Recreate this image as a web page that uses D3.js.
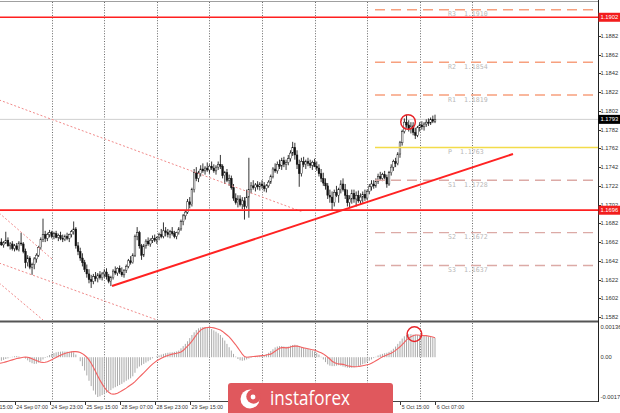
<!DOCTYPE html>
<html><head><meta charset="utf-8">
<script src="https://cdn.jsdelivr.net/npm/d3@7/dist/d3.min.js"></script>
<style>html,body{margin:0;padding:0;background:#fff;overflow:hidden}svg{display:block}</style>
</head><body>
<svg id="chart" width="620" height="413"></svg>
<script>
// ---------------- DATA ----------------
const dayNames = ["24 Sep","25 Sep","28 Sep","29 Sep","30 Sep","1 Oct","2 Oct","5 Oct","6 Oct"];
const daySeparatorBars = [24,48,72,96,120,144,168,192,216];
// labels that are visible (the others are covered by the logo in the reference)
const timeLabelBars = [-9,7,23,39,55,71,87,183,199];
const timeLabels = ["23 Sep 15:00","24 Sep 07:00","24 Sep 23:00","25 Sep 15:00","28 Sep 07:00","28 Sep 23:00","29 Sep 15:00","5 Oct 15:00","6 Oct 07:00"];

const open = [
1.1660,1.1662,1.1659,1.1661,1.1664,1.1658,1.1660,1.1655,1.1658,1.1654,
1.1661,1.1660,1.1652,1.1640,1.1645,1.1635,1.1638,1.1644,1.1648,1.1656,
1.1665,1.1670,1.1666,1.1670,1.1672,1.1668,1.1671,1.1667,1.1669,1.1666,
1.1665,1.1668,1.1666,1.1670,1.1673,1.1676,1.1658,1.1652,1.1645,1.1640,
1.1633,1.1628,1.1622,1.1620,1.1625,1.1623,1.1627,1.1624,1.1628,1.1630,
1.1625,1.1620,1.1624,1.1631,1.1629,1.1634,1.1630,1.1627,1.1632,1.1636,
1.1642,1.1640,1.1648,1.1668,1.1672,1.1658,1.1648,1.1658,1.1663,1.1660,
1.1664,1.1666,1.1664,1.1667,1.1670,1.1668,1.1674,1.1672,1.1670,1.1673,
1.1671,1.1668,1.1672,1.1676,1.1684,1.1690,1.1694,1.1705,1.1702,1.1718,
1.1736,1.1730,1.1735,1.1740,1.1738,1.1741,1.1739,1.1743,1.1741,1.1738,
1.1742,1.1745,1.1743,1.1733,1.1736,1.1728,1.1730,1.1720,1.1709,1.1704,
1.1708,1.1702,1.1706,1.1700,1.1710,1.1718,1.1722,1.1720,1.1723,1.1721,
1.1724,1.1722,1.1719,1.1722,1.1726,1.1732,1.1740,1.1738,1.1745,1.1743,
1.1749,1.1745,1.1747,1.1751,1.1757,1.1763,1.1755,1.1745,1.1735,1.1748,
1.1745,1.1748,1.1746,1.1744,1.1747,1.1743,1.1741,1.1735,1.1730,1.1725,
1.1722,1.1712,1.1710,1.1704,1.1715,1.1712,1.1718,1.1724,1.1718,1.1712,
1.1704,1.1708,1.1714,1.1708,1.1712,1.1706,1.1710,1.1713,1.1709,1.1716,
1.1721,1.1724,1.1722,1.1727,1.1732,1.1730,1.1734,1.1731,1.1724,1.1736,
1.1742,1.1748,1.1746,1.1756,1.1768,1.1780,1.1790,1.1787,1.1783,1.1786,
1.1779,1.1776,1.1784,1.1787,1.1785,1.1788,1.1790,1.1789,1.1793,1.1791];
const high = [
1.1664,1.1666,1.1663,1.1673,1.1667,1.1662,1.1663,1.1660,1.1661,1.1663,
1.1672,1.1662,1.1655,1.1648,1.1647,1.1640,1.1646,1.1650,1.1658,1.1667,
1.1687,1.1674,1.1672,1.1675,1.1674,1.1673,1.1674,1.1671,1.1673,1.1670,
1.1670,1.1672,1.1671,1.1675,1.1684,1.1678,1.1662,1.1656,1.1650,1.1643,
1.1638,1.1633,1.1627,1.1628,1.1630,1.1629,1.1631,1.1630,1.1633,1.1634,
1.1628,1.1626,1.1633,1.1636,1.1635,1.1637,1.1635,1.1633,1.1638,1.1644,
1.1647,1.1650,1.1670,1.1678,1.1674,1.1660,1.1660,1.1665,1.1667,1.1666,
1.1669,1.1670,1.1668,1.1672,1.1676,1.1683,1.1678,1.1676,1.1675,1.1678,
1.1674,1.1673,1.1678,1.1686,1.1692,1.1696,1.1708,1.1710,1.1720,1.1740,
1.1742,1.1738,1.1744,1.1746,1.1743,1.1747,1.1745,1.1748,1.1745,1.1744,
1.1748,1.1755,1.1745,1.1738,1.1740,1.1734,1.1733,1.1724,1.1714,1.1712,
1.1712,1.1710,1.1710,1.1718,1.1752,1.1726,1.1728,1.1725,1.1727,1.1726,
1.1728,1.1726,1.1724,1.1728,1.1734,1.1742,1.1746,1.1748,1.1750,1.1752,
1.1753,1.1750,1.1755,1.1760,1.1769,1.1768,1.1760,1.1750,1.1752,1.1753,
1.1750,1.1752,1.1750,1.1749,1.1751,1.1748,1.1745,1.1740,1.1736,1.1730,
1.1725,1.1718,1.1716,1.1718,1.1722,1.1720,1.1728,1.1730,1.1724,1.1718,
1.1712,1.1718,1.1718,1.1716,1.1717,1.1714,1.1716,1.1718,1.1718,1.1724,
1.1728,1.1728,1.1730,1.1735,1.1737,1.1736,1.1738,1.1734,1.1738,1.1745,
1.1750,1.1752,1.1758,1.1770,1.1782,1.1794,1.1798,1.1792,1.1790,1.1790,
1.1784,1.1786,1.1790,1.1791,1.1790,1.1793,1.1794,1.1795,1.1797,1.1798];
const low = [
1.1657,1.1658,1.1656,1.1660,1.1657,1.1654,1.1653,1.1652,1.1653,1.1652,
1.1658,1.1650,1.1634,1.1636,1.1633,1.1627,1.1633,1.1640,1.1646,1.1654,
1.1662,1.1662,1.1663,1.1667,1.1666,1.1665,1.1666,1.1663,1.1664,1.1662,
1.1663,1.1664,1.1662,1.1667,1.1670,1.1655,1.1648,1.1642,1.1636,1.1630,
1.1624,1.1618,1.1613,1.1617,1.1620,1.1619,1.1622,1.1621,1.1624,1.1622,
1.1618,1.1615,1.1622,1.1627,1.1626,1.1628,1.1625,1.1624,1.1629,1.1634,
1.1638,1.1639,1.1646,1.1664,1.1655,1.1643,1.1646,1.1655,1.1658,1.1657,
1.1661,1.1662,1.1660,1.1664,1.1666,1.1666,1.1668,1.1667,1.1666,1.1669,
1.1666,1.1665,1.1670,1.1674,1.1680,1.1686,1.1692,1.1698,1.1700,1.1715,
1.1727,1.1726,1.1732,1.1736,1.1734,1.1737,1.1735,1.1739,1.1736,1.1734,
1.1739,1.1740,1.1730,1.1724,1.1726,1.1722,1.1718,1.1706,1.1702,1.1699,
1.1700,1.1697,1.1686,1.1698,1.1688,1.1714,1.1718,1.1716,1.1718,1.1717,
1.1719,1.1716,1.1715,1.1720,1.1724,1.1730,1.1736,1.1735,1.1740,1.1739,
1.1742,1.1739,1.1744,1.1748,1.1754,1.1750,1.1740,1.1721,1.1732,1.1742,
1.1740,1.1743,1.1741,1.1739,1.1742,1.1738,1.1732,1.1726,1.1722,1.1718,
1.1708,1.1704,1.1696,1.1700,1.1710,1.1704,1.1714,1.1716,1.1708,1.1700,
1.1698,1.1703,1.1704,1.1700,1.1704,1.1702,1.1704,1.1706,1.1707,1.1713,
1.1717,1.1719,1.1720,1.1724,1.1728,1.1727,1.1729,1.1720,1.1722,1.1733,
1.1738,1.1742,1.1744,1.1752,1.1765,1.1778,1.1784,1.1780,1.1778,1.1776,
1.1772,1.1774,1.1780,1.1782,1.1781,1.1785,1.1786,1.1787,1.1789,1.1789];
const close = [
1.1662,1.1659,1.1661,1.1664,1.1658,1.1660,1.1655,1.1658,1.1654,1.1661,
1.1660,1.1652,1.1640,1.1645,1.1635,1.1638,1.1644,1.1648,1.1656,1.1665,
1.1670,1.1666,1.1670,1.1672,1.1668,1.1671,1.1667,1.1669,1.1666,1.1665,
1.1668,1.1666,1.1670,1.1673,1.1676,1.1658,1.1652,1.1645,1.1640,1.1633,
1.1628,1.1622,1.1620,1.1625,1.1623,1.1627,1.1624,1.1628,1.1630,1.1625,
1.1620,1.1624,1.1631,1.1629,1.1634,1.1630,1.1627,1.1632,1.1636,1.1642,
1.1640,1.1648,1.1668,1.1672,1.1658,1.1648,1.1658,1.1663,1.1660,1.1664,
1.1666,1.1664,1.1667,1.1670,1.1668,1.1674,1.1672,1.1670,1.1673,1.1671,
1.1668,1.1672,1.1676,1.1684,1.1690,1.1694,1.1705,1.1702,1.1718,1.1736,
1.1730,1.1735,1.1740,1.1738,1.1741,1.1739,1.1743,1.1741,1.1738,1.1742,
1.1745,1.1743,1.1733,1.1736,1.1728,1.1730,1.1720,1.1709,1.1704,1.1708,
1.1702,1.1706,1.1700,1.1710,1.1718,1.1722,1.1720,1.1723,1.1721,1.1724,
1.1722,1.1719,1.1722,1.1726,1.1732,1.1740,1.1738,1.1745,1.1743,1.1749,
1.1745,1.1747,1.1751,1.1757,1.1763,1.1755,1.1745,1.1735,1.1748,1.1745,
1.1748,1.1746,1.1744,1.1747,1.1743,1.1741,1.1735,1.1730,1.1725,1.1722,
1.1712,1.1710,1.1704,1.1715,1.1712,1.1718,1.1724,1.1718,1.1712,1.1704,
1.1708,1.1714,1.1708,1.1712,1.1706,1.1710,1.1713,1.1709,1.1716,1.1721,
1.1724,1.1722,1.1727,1.1732,1.1730,1.1734,1.1731,1.1724,1.1736,1.1742,
1.1748,1.1746,1.1756,1.1768,1.1780,1.1790,1.1787,1.1783,1.1786,1.1779,
1.1776,1.1784,1.1787,1.1785,1.1788,1.1790,1.1789,1.1793,1.1791,1.1793];

const macdMain = [
-0.00020,-0.00016,-0.00012,-0.00008,-0.00005,-0.00001,0.00002,0.00004,0.00005,0.00003,
0.00001,0.00000,-0.00006,-0.00014,-0.00022,-0.00027,-0.00030,-0.00029,-0.00024,-0.00017,
-0.00010,-0.00003,0.00004,0.00010,0.00015,0.00019,0.00022,0.00024,0.00025,0.00026,
0.00025,0.00025,0.00024,0.00025,0.00022,0.00012,0.00000,-0.00018,-0.00040,-0.00060,
-0.00082,-0.00106,-0.00130,-0.00150,-0.00168,-0.00179,-0.00176,-0.00170,-0.00165,-0.00160,
-0.00154,-0.00148,-0.00140,-0.00135,-0.00130,-0.00125,-0.00120,-0.00113,-0.00106,-0.00100,
-0.00095,-0.00086,-0.00070,-0.00050,-0.00042,-0.00036,-0.00030,-0.00024,-0.00018,-0.00012,
-0.00005,0.00000,0.00004,0.00008,0.00012,0.00015,0.00018,0.00020,0.00021,0.00022,
0.00024,0.00026,0.00030,0.00040,0.00050,0.00060,0.00072,0.00086,0.00100,0.00112,
0.00122,0.00130,0.00134,0.00136,0.00136,0.00134,0.00131,0.00127,0.00121,0.00115,
0.00108,0.00100,0.00088,0.00075,0.00060,0.00045,0.00030,0.00015,0.00003,-0.00008,
-0.00014,-0.00016,-0.00014,-0.00010,-0.00006,-0.00003,0.00000,0.00002,0.00004,0.00006,
0.00008,0.00010,0.00014,0.00020,0.00028,0.00036,0.00044,0.00048,0.00050,0.00050,
0.00048,0.00047,0.00048,0.00052,0.00055,0.00056,0.00054,0.00050,0.00046,0.00042,
0.00040,0.00037,0.00034,0.00030,0.00026,0.00020,0.00012,0.00002,-0.00010,-0.00022,
-0.00032,-0.00038,-0.00040,-0.00040,-0.00038,-0.00036,-0.00038,-0.00042,-0.00045,-0.00047,
-0.00048,-0.00048,-0.00046,-0.00043,-0.00040,-0.00036,-0.00032,-0.00028,-0.00022,-0.00016,
-0.00010,-0.00004,0.00002,0.00008,0.00012,0.00015,0.00018,0.00020,0.00024,0.00030,
0.00038,0.00048,0.00060,0.00072,0.00084,0.00094,0.00100,0.00104,0.00104,0.00102,
0.00101,0.00100,0.00099,0.00098,0.00097,0.00095,0.00093,0.00091,0.00089,0.00087];
const macdSignal = [
-0.00028,-0.00026,-0.00024,-0.00021,-0.00018,-0.00015,-0.00012,-0.00009,-0.00006,-0.00004,
-0.00002,0.00000,0.00001,0.00000,-0.00003,-0.00007,-0.00011,-0.00015,-0.00019,-0.00022,
-0.00024,-0.00023,-0.00020,-0.00016,-0.00011,-0.00006,-0.00001,0.00004,0.00009,0.00013,
0.00017,0.00020,0.00022,0.00024,0.00025,0.00025,0.00024,0.00021,0.00016,0.00009,
0.00000,-0.00012,-0.00027,-0.00045,-0.00064,-0.00084,-0.00103,-0.00120,-0.00135,-0.00148,
-0.00158,-0.00164,-0.00166,-0.00165,-0.00162,-0.00157,-0.00151,-0.00145,-0.00139,-0.00132,
-0.00125,-0.00118,-0.00110,-0.00100,-0.00090,-0.00080,-0.00070,-0.00060,-0.00050,-0.00040,
-0.00031,-0.00023,-0.00016,-0.00010,-0.00005,0.00000,0.00004,0.00008,0.00011,0.00014,
0.00016,0.00018,0.00020,0.00024,0.00030,0.00040,0.00050,0.00060,0.00072,0.00086,
0.00100,0.00112,0.00122,0.00128,0.00132,0.00134,0.00135,0.00134,0.00132,0.00129,
0.00126,0.00122,0.00116,0.00108,0.00100,0.00092,0.00080,0.00068,0.00056,0.00042,
0.00028,0.00014,0.00003,0.00000,0.00001,0.00002,0.00003,0.00004,0.00005,0.00006,
0.00007,0.00008,0.00010,0.00012,0.00014,0.00020,0.00027,0.00034,0.00040,0.00043,
0.00043,0.00042,0.00043,0.00046,0.00049,0.00050,0.00050,0.00048,0.00045,0.00042,
0.00040,0.00038,0.00036,0.00034,0.00032,0.00028,0.00024,0.00020,0.00015,0.00008,
0.00000,-0.00008,-0.00018,-0.00024,-0.00028,-0.00030,-0.00031,-0.00032,-0.00035,-0.00038,
-0.00040,-0.00042,-0.00043,-0.00043,-0.00042,-0.00040,-0.00038,-0.00036,-0.00034,-0.00032,
-0.00027,-0.00022,-0.00016,-0.00010,-0.00004,0.00002,0.00006,0.00010,0.00014,0.00018,
0.00024,0.00031,0.00039,0.00047,0.00057,0.00067,0.00078,0.00086,0.00092,0.00097,
0.00100,0.00100,0.00099,0.00098,0.00097,0.00097,0.00095,0.00093,0.00091,0.00088];

const priceTicks = [1.1882,1.1862,1.1842,1.1822,1.1802,1.1782,1.1762,1.1742,1.1722,1.1702,1.1682,1.1662,1.1642,1.1622,1.1602,1.1582];
const markedLevels = [1.1902, 1.1696];
const bidPrice = 1.1793;
const pivotNames = ["R3","R2","R1","P","S1","S2","S3"];
const pivotValues = [1.1910,1.1854,1.1819,1.1763,1.1728,1.1672,1.1637];
const pivotStartBar = 171.6;
const macdTickValues = [0.00136, 0, -0.00179];
const macdTickLabels = ["0.00136","0.00","-0.00179"];
const trendLine = [[51.5,1.16151],[234.6,1.17560]];
const channelLines = [
  [[0,1.18137],[138.6,1.16941]],
  [[0,1.16396],[72.1,1.15788]],
  [[0,1.16930],[24.6,1.16429]],
  [[0,1.16183],[20.0,1.15788]]
];
const priceCircles = [[186.7,1.17902]];
const macdCircles = [[189.6,0.00104]];

// ---------------- CHART ----------------
const svg = d3.select("#chart");
const FONT = "'Liberation Sans', Arial, sans-serif";
const n = close.length;
const plotRight = 598.5;
const x = d3.scaleLinear().domain([0, 199]).range([-0.8, -0.8 + 199 * 2.19]);
const y = d3.scaleLinear().domain([1.15788, 1.19183]).range([320, 2]);
const ym = d3.scaleLinear().domain([-0.00179, 0.00136]).range([397, 327]);

const defs = svg.append("defs");
defs.append("clipPath").attr("id","clipMain").append("rect").attr("x",0).attr("y",2).attr("width",plotRight).attr("height",319);
defs.append("clipPath").attr("id","clipMacd").append("rect").attr("x",0).attr("y",323).attr("width",plotRight).attr("height",78);

const main = svg.append("g").attr("clip-path","url(#clipMain)");
const macdG = svg.append("g").attr("clip-path","url(#clipMacd)");

// grid (day separators)
[[main,2,320],[macdG,323,401]].forEach(([g,y1,y2])=>{
  g.selectAll(null).data(daySeparatorBars).join("line")
    .attr("x1",d=>Math.round(x(d))+0.5).attr("x2",d=>Math.round(x(d))+0.5)
    .attr("y1",y1).attr("y2",y2)
    .attr("stroke","#6a6a6a").attr("stroke-width",1).attr("stroke-dasharray","1,1.6");
});

// bid line
main.append("line").attr("x1",0).attr("x2",plotRight).attr("y1",y(bidPrice)).attr("y2",y(bidPrice))
  .attr("stroke","#cfcfcf").attr("stroke-width",1);

// candles
const idx = d3.range(n);
main.append("g").selectAll("line").data(idx).join("line")
  .attr("x1",i=>x(i)).attr("x2",i=>x(i))
  .attr("y1",i=>y(high[i])).attr("y2",i=>y(low[i]))
  .attr("stroke","#111").attr("stroke-width",0.85);
main.append("g").selectAll("rect").data(idx).join("rect")
  .attr("x",i=>x(i)-0.85).attr("width",1.7)
  .attr("y",i=>y(Math.max(open[i],close[i])))
  .attr("height",i=>Math.max(0.6,Math.abs(y(open[i])-y(close[i]))))
  .attr("fill",i=>close[i]>=open[i]?"#fff":"#111")
  .attr("stroke","#111").attr("stroke-width",0.45);

// pivot lines
pivotValues.forEach((v,k)=>{
  const isR = pivotNames[k].startsWith("R");
  const isP = pivotNames[k]==="P";
  main.append("line").attr("x1",x(pivotStartBar)).attr("x2",plotRight)
    .attr("y1",y(v)).attr("y2",y(v))
    .attr("stroke", isP ? "#f3dc4a" : (isR ? "#f7a07e" : "#dcaaa6"))
    .attr("stroke-width", isP ? 1.4 : (isR ? 1.5 : 1.3))
    .attr("stroke-dasharray", isP ? null : "10,6");
  main.append("text").attr("x",448).attr("y",y(v)+6.5)
    .attr("font-family","'DejaVu Sans Mono', monospace").attr("font-size",6.6)
    .attr("fill","#b8b8b8").attr("xml:space","preserve")
    .text(pivotNames[k]+"  "+v.toFixed(4));
});

// channel (dotted) lines
channelLines.forEach(seg=>{
  main.append("line").attr("x1",x(seg[0][0])).attr("y1",y(seg[0][1]))
    .attr("x2",x(seg[1][0])).attr("y2",y(seg[1][1]))
    .attr("stroke","#f08a8a").attr("stroke-width",1).attr("stroke-dasharray","2,2");
});

// marked horizontal levels
markedLevels.forEach(v=>{
  main.append("line").attr("x1",0).attr("x2",plotRight).attr("y1",y(v)).attr("y2",y(v))
    .attr("stroke","#ff1f1f").attr("stroke-width",1.7);
});

// trend line
main.append("line").attr("x1",x(trendLine[0][0])).attr("y1",y(trendLine[0][1]))
  .attr("x2",x(trendLine[1][0])).attr("y2",y(trendLine[1][1]))
  .attr("stroke","#ff2222").attr("stroke-width",2);

// circles
priceCircles.forEach(c=>{
  main.append("circle").attr("cx",x(c[0])).attr("cy",y(c[1])).attr("r",7.3)
    .attr("fill","none").attr("stroke","#e8252a").attr("stroke-width",1.5);
});

// MACD histogram + signal
macdG.append("g").selectAll("line").data(idx).join("line")
  .attr("x1",i=>x(i)).attr("x2",i=>x(i))
  .attr("y1",ym(0)).attr("y2",i=>ym(macdMain[i]))
  .attr("stroke","#a9a9a9").attr("stroke-width",1);
macdG.append("path").datum(idx)
  .attr("d",d3.line().x(i=>x(i)).y(i=>ym(macdSignal[i])))
  .attr("fill","none").attr("stroke","#f26262").attr("stroke-width",1.1);
macdCircles.forEach(c=>{
  macdG.append("circle").attr("cx",x(c[0])).attr("cy",ym(c[1])).attr("r",7.3)
    .attr("fill","none").attr("stroke","#e8252a").attr("stroke-width",1.5);
});

// borders
svg.append("line").attr("x1",0).attr("x2",plotRight).attr("y1",1.5).attr("y2",1.5).attr("stroke","#a0a0a0").attr("stroke-width",1);
svg.append("line").attr("x1",0).attr("x2",plotRight).attr("y1",321.5).attr("y2",321.5).attr("stroke","#555").attr("stroke-width",2);
svg.append("line").attr("x1",0).attr("x2",plotRight).attr("y1",401.5).attr("y2",401.5).attr("stroke","#444").attr("stroke-width",1);
svg.append("line").attr("x1",plotRight).attr("x2",plotRight).attr("y1",0).attr("y2",402).attr("stroke","#222").attr("stroke-width",1);

// right price axis
const axisG = svg.append("g");
axisG.selectAll(null).data(priceTicks).join("line")
  .attr("x1",plotRight).attr("x2",plotRight+2.5).attr("y1",d=>Math.round(y(d))+0.5).attr("y2",d=>Math.round(y(d))+0.5)
  .attr("stroke","#333");
axisG.selectAll(null).data(priceTicks).join("text")
  .attr("x",600.5).attr("y",d=>y(d)+2).attr("font-family",FONT).attr("font-size",5.8).attr("fill","#333")
  .text(d=>d.toFixed(4));

function tagBox(v, fill){
  const yy = y(v);
  axisG.append("rect").attr("x",plotRight).attr("y",yy-4.5).attr("width",621-plotRight).attr("height",9).attr("fill",fill);
  axisG.append("text").attr("x",600.5).attr("y",yy+2).attr("font-family",FONT).attr("font-size",5.8).attr("fill","#fff").text(v.toFixed(4));
}
markedLevels.forEach(v=>tagBox(v,"#f21d1d"));
tagBox(bidPrice,"#000");

// MACD axis
axisG.selectAll(null).data(macdTickValues).join("text")
  .attr("x",600.5).attr("y",d=>ym(d)+2).attr("font-family",FONT).attr("font-size",5.8).attr("fill","#333")
  .text((d,i)=>macdTickLabels[i]);

// time axis
const tG = svg.append("g");
tG.selectAll(null).data(timeLabelBars).join("line")
  .attr("x1",d=>Math.round(x(d))+0.5).attr("x2",d=>Math.round(x(d))+0.5).attr("y1",402).attr("y2",405)
  .attr("stroke","#333");
tG.selectAll(null).data(timeLabelBars).join("text")
  .attr("x",d=>x(d)+1.8).attr("y",408.5).attr("font-family",FONT).attr("font-size",5.3).attr("fill","#333")
  .text((d,i)=>timeLabels[i]);

// logo overlay
const logo = svg.append("g");
logo.append("rect").attr("x",228).attr("y",383).attr("width",165).attr("height",34).attr("rx",3)
  .attr("fill","#e0585d");
logo.append("circle").attr("cx",250).attr("cy",399).attr("r",9.5).attr("fill","#fff");
logo.append("circle").attr("cx",253.5).attr("cy",396.5).attr("r",7.2).attr("fill","#e0585d");
logo.append("circle").attr("cx",253).attr("cy",397).attr("r",2.4).attr("fill","#fff");
logo.append("text").attr("x",270).attr("y",405).attr("font-family","'Open Sans', sans-serif").attr("font-weight",400)
  .attr("font-size",20).attr("fill","#fff").attr("textLength",80).attr("lengthAdjust","spacingAndGlyphs").text("instaforex");
</script>
</body></html>
